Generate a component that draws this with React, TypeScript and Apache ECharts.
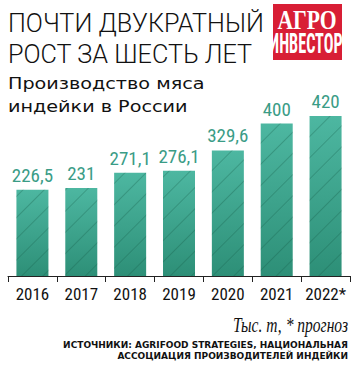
import React, { useEffect, useRef } from "react";
import * as echarts from "echarts";

const categories = ["2016", "2017", "2018", "2019", "2020", "2021", "2022*"];
const values = [226.5, 231, 271.1, 276.1, 329.6, 400, 420];
const valueLabels = ["226,5", "231", "271,1", "276,1", "329,6", "400", "420"];
const titleLines = ["ПОЧТИ ДВУКРАТНЫЙ", "РОСТ ЗА ШЕСТЬ ЛЕТ"];
const subtitleLines = ["Производство мяса", "индейки в России"];
const unitText = "Тыс. т, * прогноз";
const sourceLines = ["ИСТОЧНИКИ: AGRIFOOD STRATEGIES, НАЦИОНАЛЬНАЯ", "АССОЦИАЦИЯ ПРОИЗВОДИТЕЛЕЙ ИНДЕЙКИ"];

const NARROW = '"Liberation Sans Narrow", "Arial Narrow", "Roboto Condensed", sans-serif';

export default function App() {
  const ref = useRef<HTMLDivElement>(null);
  useEffect(() => {
    if (!ref.current) return;
    const chart = echarts.init(ref.current, null, { renderer: "svg" });
    chart.setOption({
      animation: false,
      backgroundColor: "#ffffff",
      grid: { left: 8, right: 5, top: 116, bottom: 100, containLabel: false },
      xAxis: {
        type: "category",
        data: categories,
        axisLine: { lineStyle: { color: "#222", width: 1 } },
        axisTick: { show: true, length: 6, lineStyle: { color: "#222" } },
        axisLabel: { color: "#111", fontFamily: NARROW, fontSize: 17, margin: 9, interval: 0 },
      },
      yAxis: { type: "value", min: 0, max: 420, show: false, splitLine: { show: false } },
      series: [
        {
          type: "bar",
          data: values,
          barWidth: 32,
          itemStyle: {
            color: new echarts.graphic.LinearGradient(0, 0, 0, 1, [
              { offset: 0, color: "#4db7a1" },
              { offset: 1, color: "#2d8f77" },
            ]),
            decal: {
              symbol: "rect",
              color: "rgba(20,90,70,0.3)",
              dashArrayX: [1, 0],
              dashArrayY: [1, 14],
              rotation: -Math.PI / 4,
              symbolSize: 1,
            },
          },
          label: {
            show: true,
            position: "top",
            distance: 5,
            color: "#3a9c86",
            fontFamily: NARROW,
            fontSize: 19,
            formatter: (p: any) => valueLabels[p.dataIndex],
          },
        },
      ],
      graphic: [
        {
          type: "text",
          x: 8,
          y: 7,
          style: {
            text: titleLines.join("\n"),
            font: '300 26px Roboto, "Liberation Sans", sans-serif',
            lineHeight: 31,
            fill: "#111",
          },
          scaleX: 0.97,
        },
        {
          type: "text",
          x: 8,
          y: 72,
          style: {
            text: subtitleLines.join("\n"),
            font: '16px "DejaVu Sans", sans-serif',
            lineHeight: 23,
            fill: "#111",
          },
          scaleX: 1.2,
        },
        {
          type: "rect",
          shape: { x: 273, y: 4, width: 69, height: 56 },
          style: { fill: "#d81e35" },
        },
        {
          type: "text",
          x: 307,
          y: 6,
          style: {
            text: "АГРО",
            font: 'bold 27px "Liberation Serif", serif',
            fill: "#fff",
            align: "center",
          },
          scaleX: 0.8,
        },
        {
          type: "text",
          x: 306,
          y: 30,
          style: {
            text: "ИНВЕСТОР",
            font: "bold 27px " + NARROW,
            fill: "#fff",
            align: "center",
          },
          scaleX: 0.6,
        },
        {
          type: "text",
          x: 348,
          y: 315,
          style: {
            text: unitText,
            font: 'italic 21px "Liberation Serif", serif',
            fill: "#111",
            align: "right",
          },
          scaleX: 0.74,
        },
        {
          type: "text",
          x: 348,
          y: 339,
          style: {
            text: sourceLines.join("\n"),
            font: 'bold 9px "DejaVu Sans", sans-serif',
            lineHeight: 11,
            fill: "#111",
            align: "right",
          },
        },
      ],
    });
    return () => chart.dispose();
  }, []);
  return <div ref={ref} style={{ width: 355, height: 376, position: "absolute", left: 0, top: 0 }} />;
}
